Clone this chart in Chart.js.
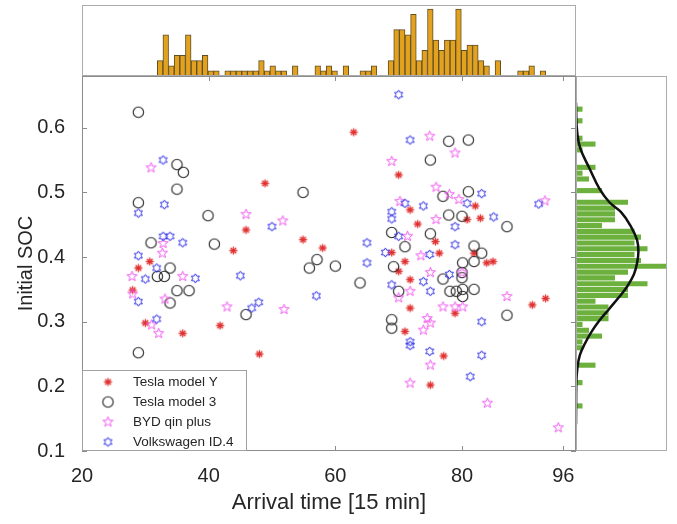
<!DOCTYPE html>
<html>
<head>
<meta charset="utf-8">
<script src="https://cdn.jsdelivr.net/npm/chart.js@4.4.0/dist/chart.umd.min.js"></script>
<style>
  html, body { margin: 0; padding: 0; background: #fff; }
  #wrap { position: relative; width: 677px; height: 524px; }
  canvas { position: absolute; }
</style>
</head>
<body>
<div id="wrap">
  <canvas id="mainChart" width="677" height="524" style="left:0;top:0"></canvas>
  <canvas id="topHist" width="494" height="71" style="left:82px;top:5px"></canvas>
  <canvas id="rightHist" width="91" height="375" style="left:576px;top:76px"></canvas>
</div>
<script>
// ---- data ----
var xTicks = [20, 40, 60, 80, 96];
var yTicks = [0.1, 0.2, 0.3, 0.4, 0.5, 0.6];

var teslaYTime = [48.9, 45.9, 54.9, 58.0, 43.9, 30.7, 28.9, 28.0, 30.0, 41.8, 35.9, 48.0, 62.9, 70.0, 82.1, 71.8, 80.8, 82.9, 73.0, 75.8, 81.9, 68.9, 76.4, 71.0, 83.9, 84.9, 70.0, 71.8, 91.1, 93.2, 71.8, 78.9, 71.0, 77.1, 75.0];
var teslaYSoc = [0.514, 0.442, 0.427, 0.414, 0.410, 0.393, 0.383, 0.349, 0.298, 0.294, 0.282, 0.250, 0.593, 0.527, 0.479, 0.473, 0.458, 0.460, 0.451, 0.424, 0.406, 0.407, 0.406, 0.393, 0.391, 0.393, 0.378, 0.365, 0.326, 0.336, 0.321, 0.313, 0.285, 0.247, 0.202];

var tesla3Time = [28.9, 35.0, 36.0, 35.0, 54.9, 28.9, 39.9, 30.9, 40.9, 33.9, 57.1, 55.9, 31.9, 33.0, 35.0, 36.9, 33.9, 45.9, 28.9, 77.9, 81.0, 75.0, 77.0, 81.0, 77.9, 80.0, 87.1, 68.9, 75.0, 71.0, 81.9, 83.1, 69.2, 60.0, 80.1, 81.9, 63.9, 77.0, 80.0, 80.0, 70.0, 78.1, 79.1, 80.1, 81.9, 80.1, 87.1, 68.9, 68.9];
var tesla3Soc = [0.624, 0.543, 0.531, 0.505, 0.500, 0.484, 0.464, 0.422, 0.420, 0.383, 0.396, 0.383, 0.370, 0.370, 0.348, 0.348, 0.329, 0.311, 0.252, 0.579, 0.581, 0.550, 0.494, 0.501, 0.465, 0.463, 0.447, 0.438, 0.436, 0.416, 0.417, 0.406, 0.385, 0.386, 0.391, 0.393, 0.360, 0.366, 0.376, 0.368, 0.347, 0.347, 0.347, 0.350, 0.350, 0.339, 0.310, 0.303, 0.290];

var bydTime = [30.9, 45.9, 51.7, 32.8, 32.7, 27.9, 35.9, 28.0, 33.1, 42.9, 51.9, 31.0, 32.1, 74.9, 78.9, 68.9, 75.9, 78.0, 79.5, 70.2, 93.1, 75.9, 71.4, 73.5, 75.0, 80.0, 70.0, 71.8, 77.0, 78.9, 80.1, 87.1, 74.5, 75.0, 73.9, 75.0, 71.8, 84.0, 95.2];
var bydSoc = [0.538, 0.466, 0.456, 0.421, 0.406, 0.370, 0.370, 0.343, 0.335, 0.323, 0.319, 0.295, 0.282, 0.587, 0.561, 0.548, 0.508, 0.497, 0.489, 0.486, 0.487, 0.458, 0.432, 0.402, 0.376, 0.376, 0.337, 0.347, 0.323, 0.323, 0.323, 0.339, 0.305, 0.298, 0.287, 0.233, 0.205, 0.174, 0.136];

var vwTime = [32.8, 33.0, 28.9, 50.0, 32.8, 33.9, 35.9, 28.9, 31.8, 30.0, 37.9, 45.0, 28.9, 47.9, 46.8, 57.0, 31.8, 70.0, 71.8, 83.1, 80.8, 71.0, 73.9, 68.9, 68.9, 85.0, 92.1, 78.9, 65.0, 70.0, 78.9, 67.9, 74.9, 65.0, 73.9, 78.0, 68.9, 75.0, 83.1, 71.8, 71.8, 74.9, 83.1, 81.3];
var vwSoc = [0.550, 0.481, 0.468, 0.447, 0.432, 0.432, 0.422, 0.402, 0.383, 0.366, 0.367, 0.371, 0.331, 0.330, 0.321, 0.340, 0.304, 0.651, 0.581, 0.498, 0.483, 0.483, 0.479, 0.470, 0.459, 0.462, 0.482, 0.447, 0.422, 0.432, 0.419, 0.407, 0.404, 0.391, 0.362, 0.373, 0.357, 0.347, 0.300, 0.269, 0.263, 0.254, 0.248, 0.215];

// arrival time histogram (top)
var arrivalBins = [29, 30, 31, 32, 33, 34, 35, 36, 37, 38, 39, 41, 42, 43, 44, 45, 46, 47, 48, 49, 50, 51, 53, 57, 58, 59, 60, 62, 65, 66, 67, 70, 71, 72, 73, 74, 75, 76, 77, 78, 79, 80, 81, 82, 83, 84, 85, 86, 87, 89, 93, 94, 95, 97];
var arrivalCounts = [3, 8, 2, 4, 4, 8, 3, 3, 4, 1, 1, 1, 1, 1, 1, 1, 1, 3, 1, 2, 1, 1, 2, 2, 1, 2, 1, 2, 1, 1, 2, 3, 9, 9, 8, 12, 3, 5, 13, 7, 5, 7, 7, 13, 5, 6, 6, 3, 2, 3, 1, 1, 2, 1];

// initial SOC histogram (right)
var socBins = [0.133, 0.175, 0.2065, 0.238, 0.2485, 0.259, 0.2695, 0.28, 0.2905, 0.301, 0.3115, 0.322, 0.3325, 0.343, 0.3535, 0.364, 0.3745, 0.385, 0.3955, 0.406, 0.4165, 0.427, 0.4375, 0.448, 0.4585, 0.469, 0.4795, 0.49, 0.5005, 0.5215, 0.5425, 0.553, 0.5635, 0.595, 0.6055, 0.616, 0.6475, 0.6685];
var socCounts = [1, 1, 3, 1, 1, 4, 2, 1, 5, 5, 5, 3, 8, 8, 11, 6, 8, 14, 10, 9, 11, 9, 10, 9, 4, 6, 6, 6, 8, 4, 2, 1, 3, 1, 3, 1, 1, 1];

// fitted normal curve, read as points
var fitSoc = [0.68, 0.638, 0.600, 0.561, 0.525, 0.501, 0.483, 0.458, 0.432, 0.411, 0.391, 0.370, 0.349, 0.329, 0.308, 0.287, 0.267, 0.246, 0.225, 0.200, 0.174, 0.10];
var fitCount = [0, 0.1, 0.6, 2.1, 3.6, 5.1, 6.9, 8.4, 9.4, 9.6, 9.4, 8.9, 7.9, 6.6, 5.1, 3.6, 2.4, 1.4, 0.6, 0.2, 0.05, 0];

// ---- markers ----
var FONT = "'Liberation Sans', Arial, sans-serif";
var TXT = "#262626";

function makeMarker(draw) {
  var c = document.createElement("canvas");
  c.width = 15;
  c.height = 15;
  var g = c.getContext("2d");
  g.translate(7.5, 7.5);
  draw(g);
  return c;
}

function starPath(g, n, r1, r2) {
  g.beginPath();
  for (var i = 0; i < 2 * n; i++) {
    var r = i % 2 ? r2 : r1;
    var a = -Math.PI / 2 + (i * Math.PI) / n;
    g.lineTo(r * Math.cos(a), r * Math.sin(a));
  }
  g.closePath();
}

var markTeslaY = makeMarker(function (g) {
  g.strokeStyle = "rgb(225,50,50)";
  g.lineWidth = 1.3;
  g.beginPath();
  for (var i = 0; i < 4; i++) {
    var a = (i * Math.PI) / 4;
    g.moveTo(-4 * Math.cos(a), -4 * Math.sin(a));
    g.lineTo(4 * Math.cos(a), 4 * Math.sin(a));
  }
  g.stroke();
});
var markTesla3 = makeMarker(function (g) {
  g.strokeStyle = "rgb(35,35,35)";
  g.lineWidth = 1.1;
  g.beginPath();
  g.arc(0, 0, 5.2, 0, Math.PI * 2);
  g.stroke();
});
var markByd = makeMarker(function (g) {
  g.strokeStyle = "rgb(240,90,240)";
  g.lineWidth = 1;
  starPath(g, 5, 5.3, 2.2);
  g.stroke();
});
var markVw = makeMarker(function (g) {
  g.strokeStyle = "rgb(50,50,230)";
  g.lineWidth = 1;
  starPath(g, 6, 4.6, 2.7);
  g.stroke();
});

function pairs(xs, ys) {
  return xs.map(function (x, i) {
    return { x: x, y: ys[i] };
  });
}

var series = [
  { label: "Tesla model Y", data: pairs(teslaYTime, teslaYSoc), pointStyle: markTeslaY, order: 3 },
  { label: "Tesla model 3", data: pairs(tesla3Time, tesla3Soc), pointStyle: markTesla3, order: 2 },
  { label: "BYD qin plus", data: pairs(bydTime, bydSoc), pointStyle: markByd, order: 1 },
  { label: "Volkswagen ID.4", data: pairs(vwTime, vwSoc), pointStyle: markVw, order: 0 },
];

// ---- frame, inward ticks and legend for the scatter axes ----
var mainFrame = {
  id: "mainFrame",
  afterDraw: function (chart) {
    var c = chart.ctx;
    var a = chart.chartArea;
    var sx = chart.scales.x;
    var sy = chart.scales.y;
    c.save();
    c.strokeStyle = "#8c8c8c";
    c.lineWidth = 1;
    c.strokeRect(a.left + 0.5, a.top + 0.5, a.right - a.left - 1, a.bottom - a.top - 1);
    c.beginPath();
    xTicks.forEach(function (v) {
      var p = Math.round(sx.getPixelForValue(v)) + 0.5;
      c.moveTo(p, a.bottom); c.lineTo(p, a.bottom - 5);
      c.moveTo(p, a.top); c.lineTo(p, a.top + 5);
    });
    yTicks.forEach(function (v) {
      var p = Math.round(sy.getPixelForValue(v)) + 0.5;
      c.moveTo(a.left, p); c.lineTo(a.left + 5, p);
      c.moveTo(a.right, p); c.lineTo(a.right - 5, p);
    });
    c.stroke();

    // legend box in the lower left corner
    var lx = a.left, ly = a.bottom - 81, lw = 165, lh = 81;
    c.fillStyle = "#fff";
    c.fillRect(lx, ly, lw, lh);
    c.strokeStyle = "#a0a0a0";
    c.strokeRect(lx + 0.5, ly + 0.5, lw - 1, lh - 1);
    c.font = "13.5px " + FONT;
    c.fillStyle = TXT;
    c.textBaseline = "middle";
    series.forEach(function (s, i) {
      var yy = ly + 12 + i * 20;
      c.drawImage(s.pointStyle, lx + 26 - 7.5, yy - 7.5);
      c.fillText(s.label, lx + 51, yy);
    });
    c.restore();
  },
};

var boxFrame = {
  id: "boxFrame",
  afterDraw: function (chart) {
    var c = chart.ctx;
    var a = chart.chartArea;
    c.save();
    c.strokeStyle = "#ababab";
    c.lineWidth = 1;
    c.strokeRect(a.left + 0.5, a.top + 0.5, a.right - a.left - 1, a.bottom - a.top - 1);
    c.restore();
  },
};

// ---- scatter ----
var ctx = document.getElementById("mainChart").getContext("2d");
var mainChart = new Chart(ctx, {
  type: "scatter",
  data: {
    datasets: series.map(function (s) {
      return { label: s.label, data: s.data, pointStyle: s.pointStyle, order: s.order, pointRadius: 5 };
    }),
  },
  options: {
    responsive: false,
    animation: false,
    layout: { padding: { top: 76, right: 101, left: 0, bottom: 0 } },
    plugins: { legend: { display: false }, tooltip: { enabled: false } },
    scales: {
      x: {
        type: "linear",
        min: 20,
        max: 98,
        grid: { display: false },
        border: { display: false },
        afterBuildTicks: function (s) {
          s.ticks = xTicks.map(function (v) { return { value: v }; });
        },
        afterFit: function (s) { s.height = 73; },
        ticks: { font: { family: FONT, size: 20 }, color: TXT, padding: 5, maxRotation: 0, autoSkip: false },
        title: {
          display: true,
          text: "Arrival time [15 min]",
          font: { family: FONT, size: 22 },
          color: TXT,
          padding: { top: 0, bottom: 8 },
        },
      },
      y: {
        type: "linear",
        min: 0.1,
        max: 0.68,
        grid: { display: false },
        border: { display: false },
        afterBuildTicks: function (s) {
          s.ticks = yTicks.map(function (v) { return { value: v }; });
        },
        afterFit: function (s) { s.width = 82; },
        ticks: {
          font: { family: FONT, size: 20 },
          color: TXT,
          padding: 9,
          callback: function (v) { return v.toFixed(1); },
        },
        title: {
          display: true,
          text: "Initial SOC",
          font: { family: FONT, size: 20 },
          color: TXT,
          padding: { top: 14, bottom: 0 },
        },
      },
    },
  },
  plugins: [mainFrame],
});

// ---- arrival time histogram ----
var ctx = document.getElementById("topHist").getContext("2d");
var topChart = new Chart(ctx, {
  type: "bar",
  data: {
    datasets: [
      {
        data: pairs(arrivalBins, arrivalCounts),
        backgroundColor: "rgb(226,162,32)",
        borderColor: "rgb(95,78,35)",
        borderWidth: 1,
        barPercentage: 1,
        categoryPercentage: 1,
      },
    ],
  },
  options: {
    responsive: false,
    animation: false,
    plugins: { legend: { display: false }, tooltip: { enabled: false } },
    scales: {
      x: { type: "linear", min: 20, max: 98, display: false },
      y: { min: 0, max: 13.8, display: false },
    },
  },
  plugins: [boxFrame],
});

// ---- initial SOC histogram ----
var ctx = document.getElementById("rightHist").getContext("2d");
var rightChart = new Chart(ctx, {
  type: "bar",
  data: {
    datasets: [
      {
        data: socBins.map(function (s, i) { return { x: socCounts[i], y: s }; }),
        backgroundColor: "rgb(108,176,62)",
        borderWidth: 0,
        barPercentage: 0.88,
        categoryPercentage: 1,
        order: 1,
      },
      {
        type: "line",
        data: fitSoc.map(function (s, i) { return { x: fitCount[i], y: s }; }),
        borderColor: "#111",
        borderWidth: 2.5,
        pointRadius: 0,
        tension: 0.4,
        fill: false,
        order: 0,
      },
    ],
  },
  options: {
    indexAxis: "y",
    responsive: false,
    animation: false,
    plugins: { legend: { display: false }, tooltip: { enabled: false } },
    scales: {
      x: { type: "linear", min: 0, max: 14, display: false },
      y: { type: "linear", min: 0.1, max: 0.68, display: false },
    },
  },
  plugins: [boxFrame],
});
</script>
</body>
</html>
